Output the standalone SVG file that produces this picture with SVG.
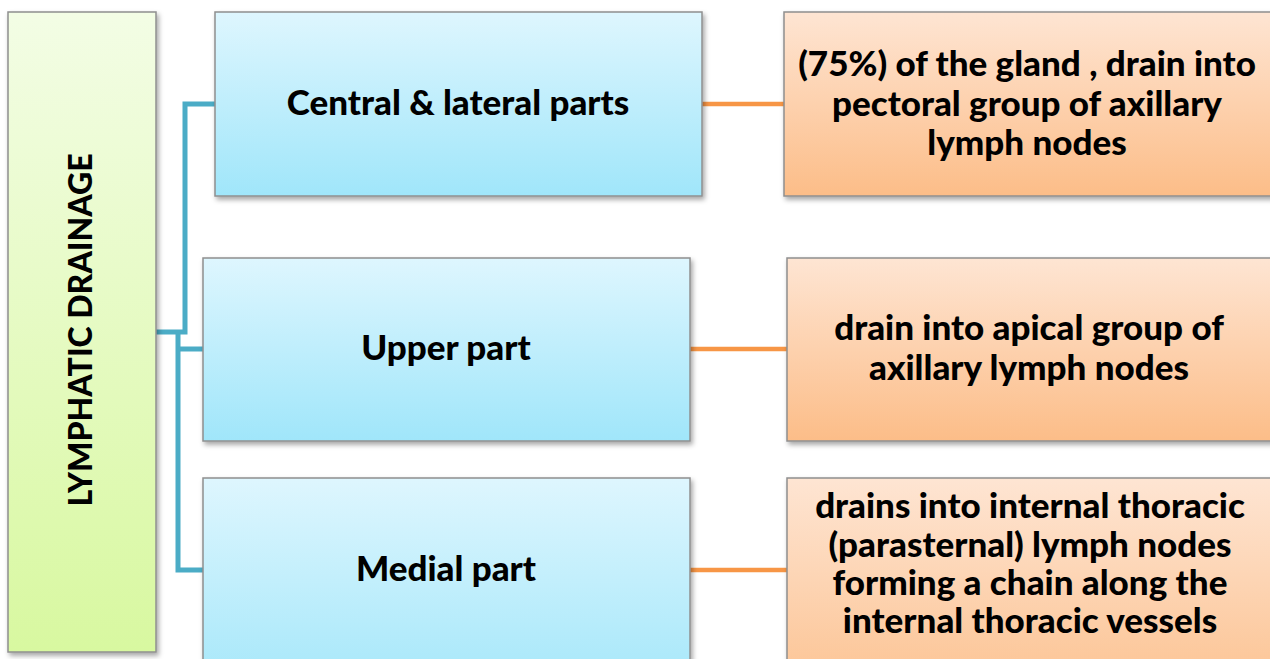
<svg xmlns="http://www.w3.org/2000/svg" width="1270" height="659" viewBox="0 0 1270 659">
<defs>
<linearGradient id="gGreen" x1="0" y1="0" x2="0" y2="1"><stop offset="0" stop-color="#F3FDE5"/><stop offset="1" stop-color="#D8F8A0"/></linearGradient>
<linearGradient id="gBlue" x1="0" y1="0" x2="0" y2="1"><stop offset="0" stop-color="#DEF6FE"/><stop offset="1" stop-color="#A0E6FA"/></linearGradient>
<linearGradient id="gBlue3" x1="0" y1="0" x2="0" y2="1"><stop offset="0" stop-color="#DEF6FE"/><stop offset="1" stop-color="#A8E8FA"/></linearGradient>
<linearGradient id="gOrange" x1="0" y1="0" x2="0" y2="1"><stop offset="0" stop-color="#FEE5D3"/><stop offset="1" stop-color="#FCBD88"/></linearGradient>
<linearGradient id="gOrange3" x1="0" y1="0" x2="0" y2="1"><stop offset="0" stop-color="#FEE5D3"/><stop offset="1" stop-color="#FCC596"/></linearGradient>
<filter id="sh" x="-10%" y="-10%" width="130%" height="130%"><feDropShadow dx="2" dy="3" stdDeviation="2.5" flood-color="#000" flood-opacity="0.35"/></filter>
</defs>
<style>
.box{stroke:#8F8F8F;stroke-width:1.5;filter:url(#sh)}
.t{font-family:Lato,"Open Sans","Liberation Sans",sans-serif;font-weight:900;fill:#000;text-anchor:middle}
.big{font-size:35px}
.c1{fill:none;stroke:#4BACC6;stroke-width:5}
.c2{fill:none;stroke:#F79646;stroke-width:4.5}
</style>
<rect width="1270" height="659" fill="#FFFFFF"/>
<g id="connectors">
<path class="c1" d="M156,332 H185 V104 H215"/>
<path class="c1" d="M178,332 V570 H203"/>
<path class="c1" d="M178,349 H203"/>
<path class="c2" d="M702,104 H784"/>
<path class="c2" d="M690,349 H787"/>
<path class="c2" d="M690,570 H787"/>
</g>
<g id="lymphatic-drainage">
<rect class="box" x="8" y="12" width="148" height="640" fill="url(#gGreen)"/>
<text class="t" style="font-size:32px" transform="translate(92,330) rotate(-90)">LYMPHATIC DRAINAGE</text>
</g>
<g id="central-lateral">
<rect class="box" x="215" y="12" width="487" height="184" fill="url(#gBlue)"/>
<text class="t big" x="458" y="115">Central &amp; lateral parts</text>
</g>
<g id="upper-part">
<rect class="box" x="203" y="258" width="487" height="183" fill="url(#gBlue)"/>
<text class="t big" x="446" y="360">Upper part</text>
</g>
<g id="medial-part">
<rect class="box" x="203" y="478" width="487" height="200" fill="url(#gBlue3)"/>
<text class="t big" x="446" y="581">Medial part</text>
</g>
<g id="pectoral">
<rect class="box" x="784" y="12" width="500" height="184" fill="url(#gOrange)"/>
<text class="t big" x="1027" y="76">(75%) of the gland , drain into</text>
<text class="t big" x="1027" y="116">pectoral group of axillary</text>
<text class="t big" x="1027" y="155">lymph nodes</text>
</g>
<g id="apical">
<rect class="box" x="787" y="258" width="500" height="183" fill="url(#gOrange)"/>
<text class="t big" x="1029" y="340">drain into apical group of</text>
<text class="t big" x="1029" y="380">axillary lymph nodes</text>
</g>
<g id="parasternal">
<rect class="box" x="787" y="478" width="500" height="200" fill="url(#gOrange3)"/>
<text class="t big" x="1030" y="518">drains into internal thoracic</text>
<text class="t big" x="1030" y="557">(parasternal) lymph nodes</text>
<text class="t big" x="1030" y="595">forming a chain along the</text>
<text class="t big" x="1030" y="633">internal thoracic vessels</text>
</g>
</svg>
